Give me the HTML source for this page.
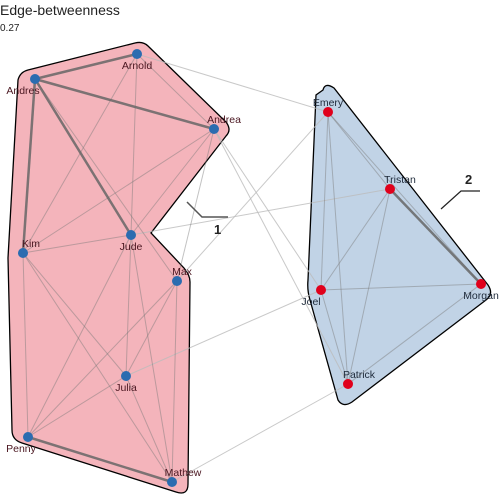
<!DOCTYPE html>
<html><head><meta charset="utf-8"><style>
body{margin:0;background:#fff}
svg{display:block;font-family:"Liberation Sans",sans-serif}
</style></head><body>
<svg id="chart" width="504" height="504" viewBox="0 0 504 504">
<text x="0" y="15" font-size="14" fill="#222">Edge-betweenness</text>
<text x="0" y="31" font-size="10" fill="#222">0.27</text>
<path d="M28,70 L135,43 Q143,41 148,46 L226,122 Q232,130 226,136 L151,233 L184,268 Q190,275 190,282 L188,484 Q188,496 176,492 L22,443 Q12,440 12,430 L8,258 L18,80 Q20,72 28,70 Z" fill="#f4b4bb" stroke="#000" stroke-width="1.3"/>
<path d="M323,90 Q325,82 334,88 L488,285 Q494,294 486,300 L352,402 Q343,408 338,400 L310,300 Q307,290 308,280 L316,95 Z" fill="#c1d3e6" stroke="#000" stroke-width="1.3"/>
<g id="edges"></g><g id="nodes"></g>
<polyline points="187,202 202,217 228,217" fill="none" stroke="#555" stroke-width="1.5"/>
<text x="214" y="234" font-size="13" font-weight="bold" fill="#222">1</text>
<polyline points="441,209 461,191 480,191" fill="none" stroke="#222" stroke-width="1.2"/>
<text x="465" y="184" font-size="13" font-weight="bold" fill="#222">2</text>
</svg>
<script>
const names=["Arnold","Andres","Andrea","Kim","Jude","Max","Julia","Penny","Mathew","Emery","Tristan","Joel","Morgan","Patrick"];
const xs=[137,35,214,23,131,177,126,28,172,328,390,321,481,348];
const ys=[54,79,129,253,235,281,376,437,482,112,189,290,284,384];
const groups=[1,1,1,1,1,1,1,1,1,2,2,2,2,2];
const heavyEdges=[["Arnold","Andres"],["Andres","Andrea"],["Andres","Kim"],["Andres","Jude"],["Penny","Mathew"],["Tristan","Morgan"]];
const thinEdges=[["Arnold","Kim"],["Arnold","Jude"],["Arnold","Andrea"],["Andres","Max"],["Andrea","Kim"],["Andrea","Jude"],["Andrea","Max"],["Kim","Jude"],["Kim","Penny"],["Kim","Julia"],["Kim","Mathew"],["Jude","Penny"],["Jude","Julia"],["Jude","Mathew"],["Max","Penny"],["Max","Julia"],["Max","Mathew"],["Julia","Penny"],["Julia","Mathew"],
["Emery","Tristan"],["Emery","Morgan"],["Emery","Joel"],["Emery","Patrick"],["Tristan","Joel"],["Tristan","Patrick"],["Joel","Morgan"],["Joel","Patrick"],["Patrick","Morgan"]];
const crossEdges=[["Arnold","Emery"],["Andrea","Joel"],["Andrea","Patrick"],["Max","Emery"],["Jude","Tristan"],["Julia","Joel"],["Mathew","Patrick"]];
const NS="http://www.w3.org/2000/svg";
const eg=document.getElementById('edges'),ng=document.getElementById('nodes');
function idx(n){return names.indexOf(n);}
function line(e,stroke,w,op,kind){
 const a=idx(e[0]),b=idx(e[1]);
 const l=document.createElementNS(NS,'line');
 l.setAttribute('x1',xs[a]);l.setAttribute('y1',ys[a]);l.setAttribute('x2',xs[b]);l.setAttribute('y2',ys[b]);
 l.setAttribute('stroke',stroke);l.setAttribute('stroke-width',w);l.setAttribute('stroke-opacity',op);
 
 
 eg.appendChild(l);
}
crossEdges.forEach(e=>line(e,'#bbb',1,0.8,'cross'));
thinEdges.forEach(e=>line(e,'#777',1,0.45,'intra'));
heavyEdges.forEach(e=>line(e,'#666',2.5,0.85,'heavy'));
names.forEach((n,i)=>{
 const c=document.createElementNS(NS,'circle');
 c.setAttribute('cx',xs[i]);c.setAttribute('cy',ys[i]);c.setAttribute('r',5);
 c.setAttribute('fill',groups[i]==1?'#2b6cb0':'#e0001b');
 
 
 ng.appendChild(c);
 const t=document.createElementNS(NS,'text');
 t.setAttribute('x',xs[i]);t.setAttribute('y',ys[i]+(['Arnold','Andres','Jude','Julia','Penny','Joel','Morgan'].includes(n)?15:-6));
 t.setAttribute('text-anchor','middle');t.setAttribute('font-size','10.5');
 t.setAttribute('fill',groups[i]==1?'#4a1620':'#1e2a3a');
 t.setAttribute('dx', n==='Kim'?8:(n==='Max'?5:(n==='Andrea'?10:(n==='Tristan'?10:(n==='Patrick'?11:(n==='Mathew'?11:(n==='Joel'?-10:(n==='Andres'?-12:(n==='Penny'?-7:0)))))))));
 t.textContent=n;
 
 
 ng.appendChild(t);
});
</script>
</body></html>
